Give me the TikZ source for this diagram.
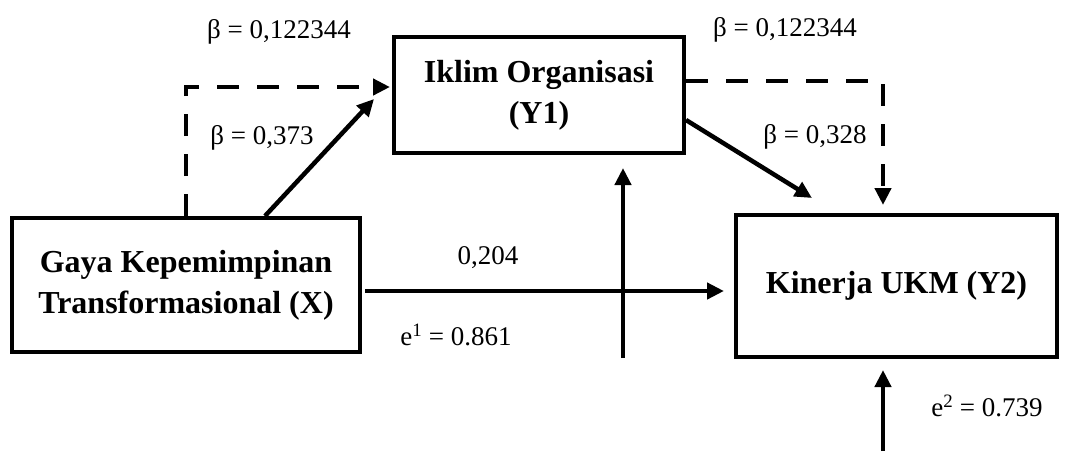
\documentclass[tikz,border=0pt]{standalone}
\usepackage{fontspec}
\setmainfont{Liberation Serif}
\usetikzlibrary{arrows.meta}
\begin{document}
\begin{tikzpicture}[x=1pt,y=-1pt,
  box/.style={draw,line width=4pt,minimum width=#1,inner sep=0pt,align=center,
    font=\fontsize{32}{41}\selectfont\bfseries},
  lab/.style={font=\fontsize{27}{32}\selectfont,inner sep=0pt},
  arr/.style={line width=4.5pt,-{Triangle[length=17pt,width=16pt]}},
  darr/.style={arr,dash pattern=on 22pt off 18pt}]
\useasboundingbox (0,0) rectangle (1080,451);
\node[box=348pt,minimum height=134pt] (X) at (186,285) {Gaya Kepemimpinan\\Transformasional (X)};
\node[box=290pt,minimum height=116pt] (Y1) at (539,95) {Iklim Organisasi\\(Y1)};
\node[box=321pt,minimum height=142pt] (Y2) at (896.5,286) {Kinerja UKM (Y2)};
\coordinate (a1) at (374,99);
\coordinate (a2) at (812,198);
\coordinate (xs) at (365,291);
\coordinate (xe) at (724,291);
\coordinate (e1s) at (623,358);
\coordinate (e1e) at (623,168);
\coordinate (e2s) at (883,451);
\coordinate (e2e) at ([xshift=-13.5pt,yshift=-11pt]Y2.south);
\draw[darr] (X.north) |- ([xshift=-2pt,yshift=8pt]Y1.west);
\draw[arr] ([xshift=79pt]X.north) -- (a1);
\draw[arr] ([yshift=-25pt]Y1.east) -- (a2);
\draw[darr] ([yshift=14pt]Y1.east) -| ([xshift=-13.5pt,yshift=8pt]Y2.north);
\draw[arr] (xs) -- (xe);
\draw[arr] (e1s) -- (e1e);
\draw[arr] (e2s) -- (e2e);
\node[lab] (l1) at (279,32) {β = 0,122344};
\node[lab] (l2) at (262,138) {β = 0,373};
\node[lab] (l3) at (785,30) {β = 0,122344};
\node[lab] (l4) at (815,137) {β = 0,328};
\node[lab] (l5) at (488,258) {0,204};
\node[lab] (l6) at (456,335) {e\textsuperscript{1} = 0.861};
\node[lab] (l7) at (987,406) {e\textsuperscript{2} = 0.739};
\end{tikzpicture}
\end{document}
